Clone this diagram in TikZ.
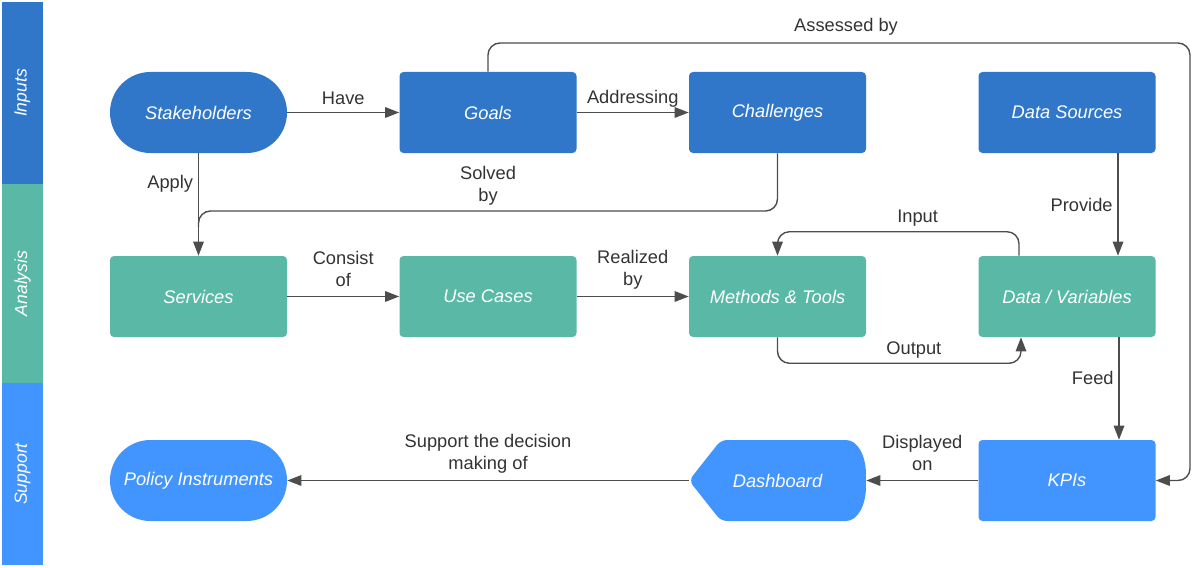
\documentclass[tikz,border=0pt]{standalone}
\usepackage{fontspec}
\setmainfont{Liberation Sans}
\usepackage{tikz}
\usetikzlibrary{arrows.meta}
\definecolor{inblue}{HTML}{3077C9}
\definecolor{anagreen}{HTML}{5AB9A6}
\definecolor{supblue}{HTML}{4294FF}
\definecolor{linegray}{HTML}{4D4D4D}
\definecolor{labelgray}{HTML}{333333}
\tikzstyle{block} = [rectangle, rounded corners=0.1cm, minimum width=4.425cm, minimum height=2.025cm, text centered, text=white, font=\fontsize{13}{15.6}\selectfont\itshape]
\tikzstyle{inbox} = [block, fill=inblue]
\tikzstyle{anabox} = [block, fill=anagreen]
\tikzstyle{supbox} = [block, fill=supblue]
\tikzstyle{terminal} = [rounded corners=1.01cm]
\tikzstyle{band} = [rectangle, rotate=90, minimum height=1.025cm, text=white, font=\fontsize{12.5}{15}\selectfont\itshape]
\tikzstyle{arrow} = [line width=1pt, draw=linegray, -{Triangle[length=10pt,width=7.5pt]}, rounded corners=0.3cm]
\tikzstyle{plainline} = [line width=1pt, draw=linegray, rounded corners=0.3cm]
\tikzstyle{lbl} = [text=labelgray, font=\fontsize{13}{15.6}\selectfont, align=center]

\begin{document}
\begin{tikzpicture}[node distance=4.6cm]
		\useasboundingbox (0,0) rectangle (29.8,-14.175);
		
		\node (inputs) [band, fill=inblue, minimum width=4.55cm] at (0.5625,-2.325) {Inputs};
		\node (analysis) [band, fill=anagreen, minimum width=4.975cm] at (0.5625,-7.0875) {Analysis};
		\node (support) [band, fill=supblue, minimum width=4.55cm] at (0.5625,-11.85) {Support};
		
		\node (stake) [inbox, terminal] at (4.9625,-2.8125) {Stakeholders};
		\node (goals) [inbox, right of=stake, xshift=2.6375cm] {Goals};
		\node (chall) [inbox, right of=goals, xshift=2.6375cm] {Challenges};
		\node (dsrc) [inbox, right of=chall, xshift=2.6375cm] {Data Sources};
		
		\node (serv) [anabox, below of=stake] {Services};
		\node (usec) [anabox, right of=serv, xshift=2.6375cm] {Use Cases};
		\node (meth) [anabox, right of=usec, xshift=2.6375cm] {Methods \& Tools};
		\node (datav) [anabox, right of=meth, xshift=2.6375cm] {Data / Variables};
		
		\node (policy) [supbox, terminal, below of=serv] {Policy Instruments};
		\node (dash) [block, below of=meth, path picture={
			\fill[supblue, rounded corners=0.15cm] (path picture bounding box.west) -- ([xshift=0.8cm]path picture bounding box.north west) -- ([xshift=-0.65cm]path picture bounding box.north east) .. controls +(0.45,0) and +(0,0.6) .. (path picture bounding box.east) .. controls +(0,-0.6) and +(0.45,0) .. ([xshift=-0.65cm]path picture bounding box.south east) -- ([xshift=0.8cm]path picture bounding box.south west) -- cycle;}] {Dashboard};
		\node (kpis) [supbox, below of=datav] {KPIs};
		
		\coordinate (assess) at (29.75,-1.075);
		\coordinate (solve) at (4.9625,-5.275);
		
		\draw [arrow] (stake) -- node [lbl, above, yshift=2pt] {Have} (goals);
		\draw [arrow] (goals) -- node [lbl, above] {Addressing} (chall);
		\draw [arrow] (goals.north) |- node [lbl, above, pos=0.755, yshift=2pt] {Assessed by} (assess) |- (kpis.east);
		\draw [arrow] (stake) -- node [lbl, left, pos=0.3] {Apply} (serv);
		\draw [plainline] (chall.south) |- node [lbl, above, pos=0.75] {Solved\\by} (solve) -- ++(0,-0.4);
		\draw [arrow] ([xshift=1.275cm]dsrc.south) -- node [lbl, left, pos=0.5] {Provide} ([xshift=1.275cm]datav.north);
		
		\draw [arrow] (serv) -- node [lbl, above, yshift=3pt] {Consist\\of} (usec);
		\draw [arrow] (usec) -- node [lbl, above, yshift=1pt] {Realized\\by} (meth);
		\draw [arrow] ([xshift=-1.2cm]datav.north) -- ++(0,0.6) -| node [lbl, above, pos=0.21] {Input} (meth.north);
		\draw [arrow] (meth.south) -- ++(0,-0.65) -| node [lbl, above, pos=0.28] {Output} ([xshift=-1.15cm]datav.south);
		\draw [arrow] ([xshift=1.3cm]datav.south) -- node [lbl, left, pos=0.4] {Feed} ([xshift=1.3cm]kpis.north);
		
		\draw [arrow] (kpis) -- node [lbl, above, yshift=3pt] {Displayed\\on} (dash);
		\draw [arrow] (dash) -- node [lbl, above, yshift=1pt] {Support the decision\\making of} (policy);
		
\end{tikzpicture}
\end{document}
